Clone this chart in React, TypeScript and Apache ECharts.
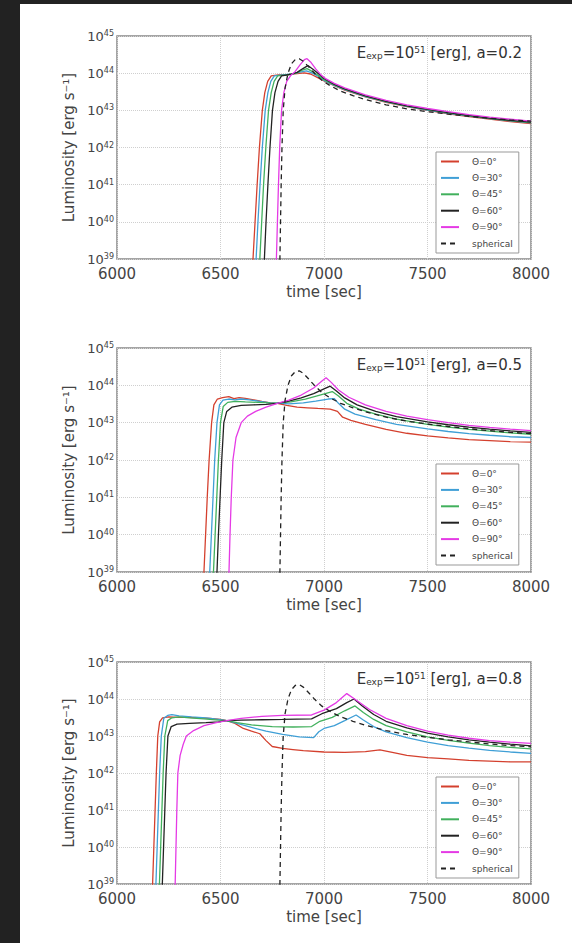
import React, { useEffect, useRef } from 'react';
import * as echarts from 'echarts';

const xTicks = [6000, 6500, 7000, 7500, 8000];
const seriesNames = ['Θ=0°', 'Θ=30°', 'Θ=45°', 'Θ=60°', 'Θ=90°', 'spherical'];
const seriesColors = ['#d4402e', '#3f9fd6', '#41b05c', '#222222', '#e53ae5', '#222222'];
const panelLabels = ['0.2', '0.5', '0.8'];

type P = [number, number][];

// shared spherical model
const spherical: P = [[6782,1e38],[6787,1e39],[6790,1e40],[6793,1e41],[6797,1e42],[6803,1e43],[6812,4e43],[6826,1e44],[6843,1.8e44],[6862,2.35e44],[6880,2.45e44],[6900,2.1e44],[6925,1.5e44],[6955,9.8e43],[6990,6.4e43],[7030,4.6e43],[7080,3.3e43],[7140,2.5e43],[7200,1.95e43],[7300,1.4e43],[7400,1.1e43],[7500,9.2e42],[7600,7.9e42],[7700,6.9e42],[7800,6.1e42],[7900,5.5e42],[8000,5.1e42]];

// a = 0.2
const a02_t0: P = [[6652,1e38],[6657,1e39],[6667,1e40],[6677,1e41],[6688,1e42],[6702,1e43],[6714,3e43],[6728,6e43],[6745,8.5e43],[6780,9e43],[6830,9.3e43],[6870,9.8e43],[6905,1.02e44],[6935,9.5e43],[6965,7.8e43],[7000,6.2e43],[7050,4.6e43],[7100,3.5e43],[7200,2.3e43],[7300,1.65e43],[7400,1.25e43],[7500,1e43],[7600,8.1e42],[7700,6.8e42],[7800,5.8e42],[7900,5e42],[8000,4.4e42]];
const a02_t30: P = [[6667,1e38],[6672,1e39],[6681,1e40],[6691,1e41],[6702,1e42],[6716,1e43],[6729,3e43],[6743,6e43],[6760,8.5e43],[6800,9e43],[6850,9.6e43],[6890,1.08e44],[6915,1.15e44],[6945,1e44],[6975,8e43],[7000,6.4e43],[7050,4.7e43],[7100,3.6e43],[7200,2.35e43],[7300,1.7e43],[7400,1.28e43],[7500,1.02e43],[7600,8.3e42],[7700,7e42],[7800,6e42],[7900,5.2e42],[8000,4.6e42]];
const a02_t45: P = [[6685,1e38],[6690,1e39],[6699,1e40],[6708,1e41],[6719,1e42],[6732,1e43],[6745,3e43],[6759,6e43],[6776,8.5e43],[6820,9e43],[6865,1e44],[6895,1.2e44],[6918,1.32e44],[6945,1.1e44],[6975,8.5e43],[7000,6.7e43],[7050,4.8e43],[7100,3.7e43],[7200,2.4e43],[7300,1.72e43],[7400,1.3e43],[7500,1.04e43],[7600,8.5e42],[7700,7.1e42],[7800,6.1e42],[7900,5.3e42],[8000,4.7e42]];
const a02_t60: P = [[6707,1e38],[6712,1e39],[6720,1e40],[6729,1e41],[6739,1e42],[6751,1e43],[6763,3e43],[6778,6e43],[6795,8.5e43],[6835,9.2e43],[6870,1.05e44],[6900,1.35e44],[6922,1.6e44],[6945,1.3e44],[6975,9.5e43],[7000,7.2e43],[7050,5e43],[7100,3.8e43],[7200,2.45e43],[7300,1.75e43],[7400,1.32e43],[7500,1.06e43],[7600,8.7e42],[7700,7.3e42],[7800,6.2e42],[7900,5.4e42],[8000,4.8e42]];
const a02_t90: P = [[6765,1e38],[6770,1e39],[6775,1e40],[6780,1e41],[6786,1e42],[6795,1e43],[6806,3e43],[6820,6e43],[6838,8.5e43],[6860,1.1e44],[6885,1.7e44],[6905,2.3e44],[6918,2.45e44],[6935,2e44],[6960,1.3e44],[6985,9e43],[7010,7e43],[7050,5.3e43],[7100,4e43],[7200,2.6e43],[7300,1.85e43],[7400,1.4e43],[7500,1.12e43],[7600,9.2e42],[7700,7.7e42],[7800,6.6e42],[7900,5.8e42],[8000,5.1e42]];

// a = 0.5
const a05_t0: P = [[6415,1e38],[6420,1e39],[6428,1e40],[6436,1e41],[6445,1e42],[6457,1e43],[6468,3e43],[6485,4.3e43],[6510,4.7e43],[6540,5e43],[6565,4.4e43],[6590,4.7e43],[6620,4.5e43],[6660,4.1e43],[6700,3.7e43],[6740,3.4e43],[6775,3.3e43],[6820,2.9e43],[6870,2.6e43],[6920,2.5e43],[6970,2.4e43],[7030,2.3e43],[7065,2e43],[7090,1.4e43],[7130,1.15e43],[7200,9e42],[7300,6.6e42],[7400,5.2e42],[7500,4.4e42],[7600,3.9e42],[7700,3.5e42],[7800,3.3e42],[7900,3.1e42],[8000,3e42]];
const a05_t30: P = [[6443,1e38],[6448,1e39],[6456,1e40],[6464,1e41],[6472,1e42],[6483,1e43],[6495,3e43],[6512,4e43],[6540,4.3e43],[6570,4.1e43],[6600,4.3e43],[6640,4.1e43],[6690,3.7e43],[6740,3.4e43],[6775,3.35e43],[6830,3.2e43],[6900,3.4e43],[6960,3.8e43],[7020,4.3e43],[7050,4.4e43],[7070,3.3e43],[7100,2.3e43],[7150,1.7e43],[7250,1.2e43],[7350,9e42],[7500,6.8e42],[7600,5.8e42],[7700,5.1e42],[7800,4.6e42],[7900,4.2e42],[8000,4e42]];
const a05_t45: P = [[6461,1e38],[6466,1e39],[6474,1e40],[6482,1e41],[6490,1e42],[6500,1e43],[6513,2.7e43],[6535,3.5e43],[6570,3.7e43],[6620,3.6e43],[6680,3.5e43],[6740,3.4e43],[6775,3.35e43],[6840,3.6e43],[6910,4.3e43],[6980,5.5e43],[7040,6.8e43],[7070,5.2e43],[7110,3.3e43],[7170,2.3e43],[7250,1.7e43],[7350,1.25e43],[7500,9e42],[7600,7.6e42],[7700,6.6e42],[7800,5.9e42],[7900,5.3e42],[8000,4.9e42]];
const a05_t60: P = [[6478,1e38],[6483,1e39],[6490,1e40],[6498,1e41],[6506,1e42],[6516,1e43],[6530,2e43],[6555,2.6e43],[6600,2.9e43],[6660,3e43],[6720,3.1e43],[6775,3.3e43],[6830,3.8e43],[6890,4.6e43],[6950,6e43],[7000,8e43],[7030,9.5e43],[7060,7e43],[7100,4.6e43],[7160,3e43],[7250,2e43],[7350,1.45e43],[7500,1.05e43],[7600,8.8e42],[7700,7.6e42],[7800,6.7e42],[7900,6e42],[8000,5.5e42]];
const a05_t90: P = [[6536,1e38],[6541,1e39],[6546,1e40],[6552,1e41],[6560,1e42],[6575,4e42],[6600,1e43],[6630,1.5e43],[6670,2e43],[6720,2.6e43],[6775,3.3e43],[6830,4e43],[6890,5.5e43],[6950,8.5e43],[6990,1.3e44],[7010,1.6e44],[7035,1.2e44],[7070,7.5e43],[7120,4.8e43],[7200,3e43],[7300,2e43],[7400,1.5e43],[7500,1.2e43],[7600,1e43],[7700,8.5e42],[7800,7.5e42],[7900,6.7e42],[8000,6.1e42]];

// a = 0.8
const a08_t0: P = [[6167,1e38],[6172,1e39],[6178,1e40],[6184,1e41],[6190,1e42],[6197,1e43],[6206,2.4e43],[6220,3.1e43],[6250,3.3e43],[6300,3.2e43],[6350,3.2e43],[6400,3.1e43],[6450,3e43],[6500,2.8e43],[6530,2.6e43],[6570,2.2e43],[6610,1.6e43],[6650,1.35e43],[6690,1.15e43],[6720,7.5e42],[6750,5.2e42],[6800,4.6e42],[6850,4.3e42],[6900,4e42],[7000,3.7e42],[7100,3.6e42],[7200,3.8e42],[7270,4.2e42],[7330,3.6e42],[7400,3e42],[7500,2.6e42],[7600,2.4e42],[7700,2.2e42],[7800,2.1e42],[7900,2e42],[8000,2e42]];
const a08_t30: P = [[6183,1e38],[6188,1e39],[6194,1e40],[6200,1e41],[6206,1e42],[6214,1e43],[6226,3e43],[6245,3.6e43],[6265,3.8e43],[6300,3.5e43],[6360,3.3e43],[6430,3.1e43],[6490,2.8e43],[6530,2.6e43],[6580,2.2e43],[6650,1.7e43],[6720,1.35e43],[6800,1.1e43],[6880,9.5e42],[6950,9e42],[6975,1.3e43],[7000,1.6e43],[7050,1.9e43],[7100,2.6e43],[7155,3.7e43],[7190,2.7e43],[7240,1.8e43],[7300,1.3e43],[7400,9e42],[7500,6.8e42],[7600,5.5e42],[7700,4.7e42],[7800,4.1e42],[7900,3.7e42],[8000,3.4e42]];
const a08_t45: P = [[6200,1e38],[6205,1e39],[6211,1e40],[6217,1e41],[6223,1e42],[6231,1e43],[6245,2.6e43],[6265,3.1e43],[6300,3.3e43],[6350,3.1e43],[6420,2.9e43],[6490,2.7e43],[6530,2.6e43],[6580,2.3e43],[6650,2e43],[6750,1.8e43],[6850,1.75e43],[6940,1.8e43],[6980,2.5e43],[7040,3.2e43],[7100,4.8e43],[7150,6.5e43],[7190,4.3e43],[7240,2.8e43],[7300,1.9e43],[7400,1.3e43],[7500,9.5e42],[7600,7.6e42],[7700,6.4e42],[7800,5.5e42],[7900,4.9e42],[8000,4.5e42]];
const a08_t60: P = [[6214,1e38],[6219,1e39],[6225,1e40],[6231,1e41],[6237,1e42],[6246,1e43],[6262,1.8e43],[6290,2.1e43],[6350,2.2e43],[6430,2.3e43],[6490,2.4e43],[6530,2.6e43],[6600,2.7e43],[6700,2.75e43],[6800,2.8e43],[6940,2.9e43],[6990,4e43],[7060,5.5e43],[7110,8e43],[7145,1e44],[7185,6.5e43],[7240,3.8e43],[7300,2.5e43],[7400,1.65e43],[7500,1.2e43],[7600,9.5e42],[7700,7.9e42],[7800,6.8e42],[7900,6e42],[8000,5.4e42]];
const a08_t90: P = [[6276,1e38],[6281,1e39],[6285,1e40],[6289,1e41],[6294,1e42],[6305,3e42],[6320,6e42],[6335,1e43],[6370,1.4e43],[6420,1.9e43],[6480,2.3e43],[6530,2.6e43],[6600,3e43],[6700,3.4e43],[6800,3.6e43],[6940,3.7e43],[7000,5e43],[7060,8e43],[7110,1.4e44],[7160,9e43],[7220,5.2e43],[7300,3e43],[7400,1.9e43],[7500,1.35e43],[7600,1.05e43],[7700,8.7e42],[7800,7.5e42],[7900,6.8e42],[8000,6.3e42]];

const panelData: P[][] = [
  [a02_t0, a02_t30, a02_t45, a02_t60, a02_t90, spherical],
  [a05_t0, a05_t30, a05_t45, a05_t60, a05_t90, spherical],
  [a08_t0, a08_t30, a08_t45, a08_t60, a08_t90, spherical],
];

const FONT = 'DejaVu Sans';
const TXT = '#444';

export default function App() {
  const ref = useRef<HTMLDivElement>(null);
  useEffect(() => {
    const chart = echarts.init(ref.current!, null, { renderer: 'svg' });
    const grids = [
      { top: 36, height: 223 },
      { top: 348, height: 224 },
      { top: 662, height: 222 },
    ];
    const legendTops = [152, 464, 777];
    const gridOpts = grids.map((g) => ({
      left: 117, width: 414, top: g.top, height: g.height,
      show: true, borderColor: '#888', borderWidth: 1.5, backgroundColor: 'transparent',
      containLabel: false,
    }));
    const xAxes = grids.map((_, i) => ({
      type: 'value', gridIndex: i, min: xTicks[0], max: xTicks[xTicks.length - 1], interval: 500,
      name: 'time [sec]', nameLocation: 'middle', nameGap: 25,
      nameTextStyle: { fontSize: 15, color: TXT, fontFamily: FONT },
      axisLine: { show: false }, axisTick: { show: false },
      axisLabel: { fontSize: 15, color: TXT, margin: 7, fontFamily: FONT, formatter: (v: number) => String(v) },
      splitLine: { show: true, lineStyle: { color: '#cfcfcf', type: 'dotted', width: 1 } },
    }));
    const yAxes = grids.map((_, i) => ({
      type: 'log', logBase: 10, gridIndex: i, min: 1e39, max: 1e45,
      name: 'Luminosity [erg s⁻¹]', nameLocation: 'middle', nameGap: 38, nameRotate: 90,
      nameTextStyle: { fontSize: 15, color: TXT, fontFamily: FONT },
      axisLine: { show: false }, axisTick: { show: false },
      axisLabel: {
        margin: 3, fontFamily: FONT,
        formatter: (v: number) => '{a|10}{b|' + Math.round(Math.log10(v)) + '}',
        rich: {
          a: { fontSize: 13, color: TXT, lineHeight: 13, fontFamily: FONT },
          b: { fontSize: 8, color: TXT, lineHeight: 8, verticalAlign: 'top', fontFamily: FONT },
        },
      },
      splitLine: { show: true, lineStyle: { color: '#cfcfcf', type: 'dotted', width: 1 } },
    }));
    const series: any[] = [];
    panelData.forEach((arr, pi) => {
      arr.forEach((d, si) => {
        series.push({
          type: 'line', name: seriesNames[si], xAxisIndex: pi, yAxisIndex: pi,
          data: d, showSymbol: false, symbol: 'none', clip: true, smooth: false,
          lineStyle: { color: seriesColors[si], width: 1.3, type: si === 5 ? [5, 4] : 'solid' },
          itemStyle: { color: seriesColors[si] },
          z: 2 + si,
        });
      });
    });
    const legends = legendTops.map((t) => ({
      data: seriesNames, orient: 'vertical', left: 436, top: t,
      itemWidth: 18, itemHeight: 11, itemGap: 7.4, selectedMode: false,
      itemStyle: { opacity: 0 },
      backgroundColor: '#fff', borderColor: '#999', borderWidth: 1, padding: [5, 6, 5, 4],
      textStyle: { fontSize: 9, color: TXT, fontFamily: FONT, width: 58, padding: [0, 0, 0, 8] },
    }));
    const graphics = grids.map((g, i) => ({
      type: 'text', x: 522, y: g.top + 17, z: 100,
      style: {
        text: 'E{sub|exp}=10{sup|51} [erg], a=' + panelLabels[i],
        align: 'right', verticalAlign: 'middle',
        fontSize: 15, fontFamily: FONT, fill: '#333',
        rich: {
          sub: { fontSize: 9, fontFamily: FONT, fill: '#333', verticalAlign: 'bottom', lineHeight: 10 },
          sup: { fontSize: 9, fontFamily: FONT, fill: '#333', verticalAlign: 'top', lineHeight: 10 },
        },
      },
    }));
    chart.setOption({
      animation: false,
      backgroundColor: 'transparent',
      textStyle: { fontFamily: FONT },
      grid: gridOpts,
      xAxis: xAxes,
      yAxis: yAxes,
      legend: legends,
      series,
      graphic: graphics,
    } as any);
    return () => chart.dispose();
  }, []);
  return (
    <div style={{ position: 'fixed', left: 0, top: 0, width: 572, height: 943, background: '#222' }}>
      <div style={{ position: 'absolute', left: 20, top: 4, width: 552, height: 939, background: '#fff' }} />
      <div ref={ref} style={{ position: 'absolute', left: 0, top: 0, width: 572, height: 943 }} />
    </div>
  );
}
